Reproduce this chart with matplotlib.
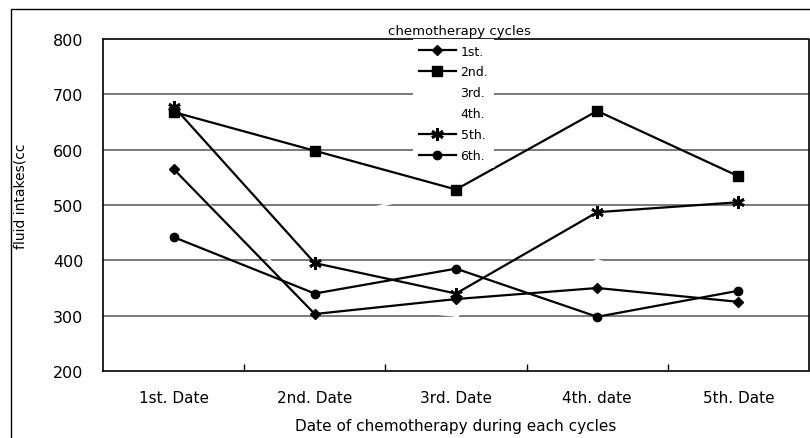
import matplotlib.pyplot as plt
from matplotlib.patches import Rectangle

plt.rcParams['font.family'] = 'DejaVu Sans'

# categories and series values
dates = ['1st. Date', '2nd. Date', '3rd. Date', '4th. date', '5th. Date']
cycle1 = [565, 303, 330, 350, 325]
cycle2 = [668, 598, 528, 670, 552]
cycle3 = [560, 325, 300, 400, 325]   # drawn white in the original
cycle4 = [460, 468, 533, 520, 520]   # drawn white in the original
cycle5 = [678, 395, 340, 487, 505]
cycle6 = [442, 340, 385, 298, 345]

fig = plt.figure(figsize=(8.1, 4.39), dpi=100)
ax = fig.add_axes([103/810, 1-372/439, (809-103)/810, (372-40)/439])

x = list(range(len(dates)))
ax.plot(x, cycle1, color='black', lw=1.6, marker='D', ms=5, label='1st.', zorder=3)
ax.plot(x, cycle2, color='black', lw=1.6, marker='s', ms=7, label='2nd.', zorder=3)
ax.plot(x, cycle3, color='white', lw=1.6, marker='^', ms=5, label='3rd.', zorder=2)
ax.plot(x, cycle4, color='white', lw=1.6, marker='s', ms=5, label='4th.', zorder=2)
ax.plot(x, cycle5, color='black', lw=1.6, marker=(6, 2, 0), ms=9, mew=2, label='5th.', zorder=3)
ax.plot(x, cycle6, color='black', lw=1.6, marker='o', ms=6, label='6th.', zorder=3)

ax.set_xlim(-0.5, len(dates) - 0.5)
ax.set_ylim(200, 800)
ax.set_yticks(range(200, 801, 100))
for v in range(300, 800, 100):
    ax.axhline(v, color='#555555', lw=1.1, zorder=1)

ax.set_xticks(x)
ax.set_xticklabels(dates, fontsize=11)
ax.set_xticks([i + 0.5 for i in x[:-1]], minor=True)
ax.tick_params(axis='x', which='major', length=0, pad=14)
ax.tick_params(axis='x', which='minor', direction='in', length=5, width=1)
ax.tick_params(axis='y', length=0, pad=14, labelsize=11.5)

for s in ax.spines.values():
    s.set_linestyle((0, (1, 1)))
    s.set_linewidth(1.2)
    s.set_color('black')

ax.set_xlabel('Date of chemotherapy during each cycles', fontsize=11, labelpad=9)
ax.set_ylabel('fluid intakes(cc', fontsize=10)
ax.yaxis.set_label_coords(-(103 - 27)/706, 0.53)

leg = ax.legend(loc='upper left', bbox_to_anchor=(413/810, 1-40/439),
                bbox_transform=fig.transFigure,
                fontsize=9, frameon=True, facecolor='white',
                edgecolor='none', framealpha=1, fancybox=False,
                handlelength=3.0, handletextpad=0.35, labelspacing=0.63,
                borderpad=0.45, borderaxespad=0)
leg.set_zorder(5)
fig.text(459/810, 1-32/439, 'chemotherapy cycles', fontsize=9.5,
         ha='center', va='center')

fig.add_artist(Rectangle((11/810, -0.1), 1.2, 1.1 - 10/439, transform=fig.transFigure,
                         fill=False, lw=1, edgecolor='black'))

fig.savefig('out.png', dpi=100)
